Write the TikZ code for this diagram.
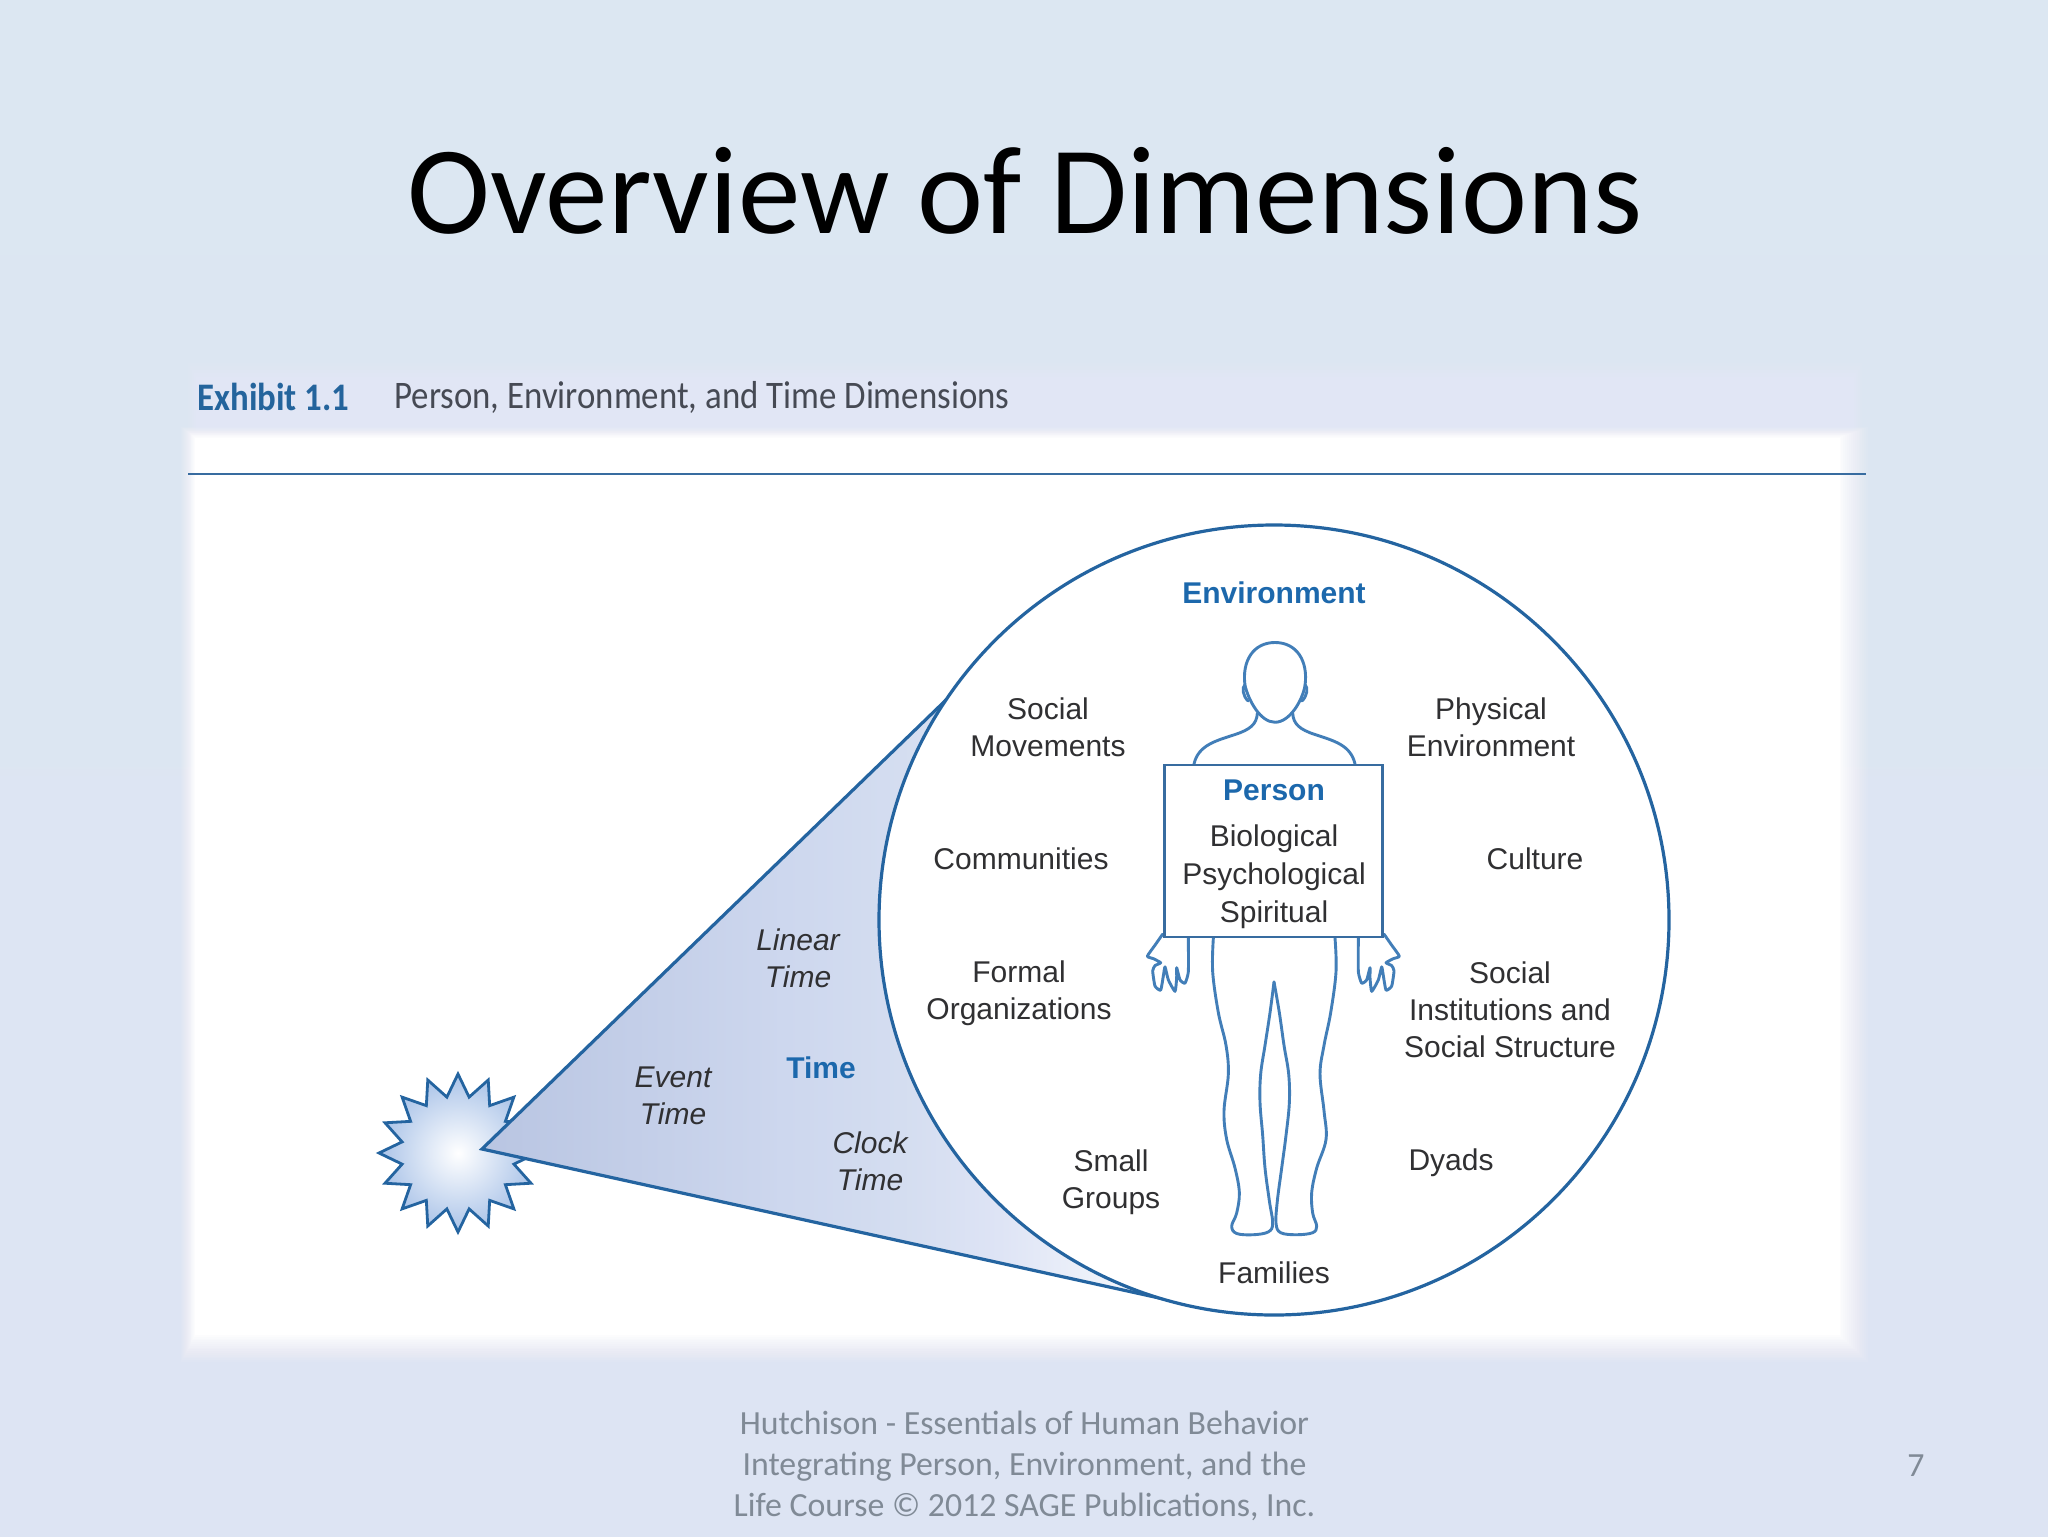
\documentclass[tikz,border=0pt]{standalone}
\usepackage{fontspec}
\setmainfont{Carlito}
\newfontfamily\labfont{Liberation Sans}
\newfontfamily\exfont[FakeStretch=.893]{Carlito}
\usetikzlibrary{calc}
\definecolor{slidetop}{RGB}{220,231,242}
\definecolor{slidebot}{RGB}{221,228,243}
\definecolor{headtint}{RGB}{225,230,245}
\definecolor{ruleblue}{RGB}{56,108,160}
\definecolor{ringblue}{RGB}{36,100,160}
\definecolor{bodyblue}{RGB}{66,126,184}
\definecolor{headblue}{RGB}{28,104,172}
\definecolor{exblue}{RGB}{36,100,156}
\definecolor{labgray}{RGB}{48,48,50}
\definecolor{footgray}{RGB}{128,138,150}
\definecolor{extext}{RGB}{70,74,84}
\pgfdeclarehorizontalshading{coneshade}{100bp}{rgb(0bp)=(.725,.773,.886); rgb(25bp)=(.725,.773,.886); rgb(46.6bp)=(.804,.843,.933); rgb(54.9bp)=(.831,.867,.941); rgb(62bp)=(.871,.894,.961); rgb(69.1bp)=(.933,.949,.98); rgb(75bp)=(.98,.985,1); rgb(100bp)=(1,1,1)}
\tikzset{
  lab/.style={font=\labfont\fontsize{15}{18.5}\selectfont,text=labgray,align=center,inner sep=0pt},
  labit/.style={lab,font=\labfont\itshape\fontsize{15}{18.5}\selectfont},
  labhead/.style={lab,font=\labfont\bfseries\fontsize{15}{18.5}\selectfont,text=headblue},
  foot/.style={font=\fontsize{16.9}{20.3}\selectfont,text=footgray,align=center,inner sep=0pt},
  body/.style={draw=bodyblue,line width=1.45pt,line join=round,line cap=round},
}
\begin{document}
\begin{tikzpicture}[x=0.5pt,y=-0.5pt]
\useasboundingbox (0,0) rectangle (2048,1536);
\shade[top color=slidetop,bottom color=slidebot] (0,0) rectangle (2048,1536);
\foreach \i in {0,...,9}{
  \pgfmathsetmacro\op{1/(10-\i)}
  \fill[headtint,opacity=\op] ({178+\i*2},{345+\i*3.5}) rectangle ({1872-\i*2},{440});
}
\foreach \i in {0,...,15}{
  \pgfmathsetmacro\op{1/(16-\i)}
  \fill[white,opacity=\op] ({181+\i*0.95},{427+\i*0.7}) rectangle ({1868-\i*1.9},{1362-\i*1.8});
}
\draw[ruleblue,line width=1.35pt] (188,474) -- (1866,474);
% title etc.
\node[anchor=base,inner sep=0pt,font=\fontsize{62.6}{64}\selectfont,text=black] (title) at (1025,233) {Overview of Dimensions};
\node[anchor=west,inner sep=0pt,font=\exfont\bfseries\fontsize{19.5}{22}\selectfont,text=exblue] (exh) at (197,397) {Exhibit 1.1};
\node[anchor=west,inner sep=0pt,font=\exfont\fontsize{19.5}{22}\selectfont,text=extext] (exht) at (394,397) {Person, Environment, and Time Dimensions};
% star
\coordinate (sc) at (458,1153);
\draw[ringblue,line width=1.4pt,line join=miter,shading=radial,inner color=white,outer color={rgb,255:red,170;green,195;blue,232}]
  (sc) ++(90:79)
  \foreach \k in {1,...,16}{ -- ($(sc)+({90+\k*22.5-11.25}:57)$) -- ($(sc)+({90+\k*22.5}:79)$) } -- cycle;
% cone
\coordinate (apex) at (482,1149);
\coordinate (ctop) at (947,699);
\coordinate (cbot) at (1182,1303);
\path[shading=coneshade,shading angle=0] (apex) -- (ctop) -- (cbot) -- cycle;
\draw[ringblue,line width=1.6pt,line join=miter] (ctop) -- (apex) -- (cbot);
% circle
\node[circle,draw=ringblue,fill=white,line width=1.6pt,minimum size=395pt,inner sep=0pt] (ring) at (1274,920) {};
% person figure
\begin{scope}[shift={(1120,620)},x=0.16667pt,y=-0.2045pt]
  \draw[body] (222,352) .. controls (235,305) and (290,295) .. (345,280) .. controls (390,268) and (410,255) .. (412,228);
  \draw[body] (705,352) .. controls (692,305) and (640,295) .. (585,280) .. controls (540,268) and (520,255) .. (518,228);
  \draw[body] (375,160) .. controls (365,100) and (400,55) .. (465,55) .. controls (530,55) and (565,100) .. (555,160) .. controls (548,195) and (510,250) .. (465,250) .. controls (420,250) and (385,195) .. (375,160) -- cycle;
  \draw[body] (375,158) .. controls (365,165) and (368,185) .. (384,198);
  \draw[body] (555,158) .. controls (565,165) and (562,185) .. (546,198);
  % legs
  \draw[body] plot[smooth,tension=.6] coordinates {(280,778) (278,860) (295,960) (318,1040) (325,1110) (312,1200) (320,1270) (345,1340) (358,1400) (350,1450) (335,1482) (350,1500) (400,1503) (445,1496) (458,1475) (448,1420) (435,1340) (428,1260) (420,1180) (422,1110) (435,1040) (450,960) (462,885)};
  \draw[body] plot[smooth,tension=.6] coordinates {(645,778) (648,860) (632,960) (612,1040) (600,1110) (612,1200) (618,1270) (590,1340) (575,1400) (578,1450) (590,1482) (578,1498) (530,1503) (482,1498) (468,1475) (472,1420) (485,1340) (498,1260) (508,1180) (506,1110) (492,1040) (478,960) (462,885)};
  % hands
  \def\handpts{(128,768) (105,795) (82,822) (100,828) (122,838) (105,845) (98,858) (105,895) (122,905) (130,870) (135,848) (145,880) (165,908) (170,875) (170,850) (180,880) (195,888) (205,860) (205,778)}
  \draw[body] plot[smooth,tension=.3] coordinates {\handpts};
  \begin{scope}[shift={(920,0)},xscale=-1]
    \draw[body] plot[smooth,tension=.3] coordinates {\handpts};
  \end{scope}
\end{scope}
\node[draw=ruleblue,fill=white,line width=1.2pt,minimum width=109pt,minimum height=86pt,inner sep=0pt] (pbox) at (1273.3,851) {};
% labels
\node[labhead] (env) at (1274,593) {Environment};
\node[labhead] (per) at (1274,790) {Person};
\node[labhead] (tim) at (821,1068) {Time};
\node[lab] (bio) at (1274,839) {Biological};
\node[lab] (psy) at (1274,877) {Psychological};
\node[lab] (spi) at (1274,915) {Spiritual};
\node[lab] (soc) at (1048,727) {Social\\Movements};
\node[lab] (phy) at (1491,727) {Physical\\Environment};
\node[lab] (com) at (1021,859) {Communities};
\node[lab] (cul) at (1535,859) {Culture};
\node[lab] (for) at (1019,993) {Formal\\Organizations};
\node[lab] (ins) at (1510,1010) {Social\\Institutions and\\Social Structure};
\node[lab] (sma) at (1111,1182) {Small\\Groups};
\node[lab] (dya) at (1451,1163) {Dyads};
\node[lab] (fam) at (1274,1273) {Families};
\node[labit] (lin) at (798,958) {Linear\\Time};
\node[labit] (eve) at (673,1096) {Event\\Time};
\node[labit] (clo) at (870,1161) {Clock\\Time};
% footer
\node[foot] (foot) at (1024.5,1466) {Hutchison - Essentials of Human Behavior\\Integrating Person, Environment, and the\\Life Course © 2012 SAGE Publications, Inc.};
\node[foot] (pg) at (1916,1466) {7};
\end{tikzpicture}
\end{document}
